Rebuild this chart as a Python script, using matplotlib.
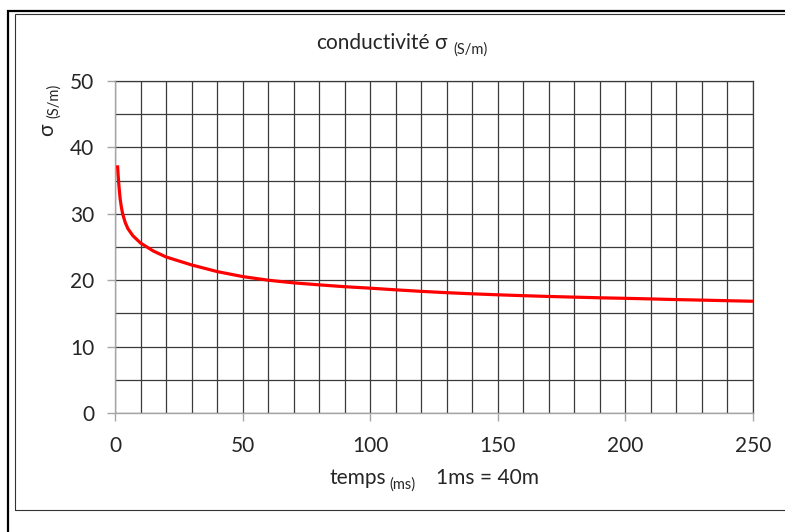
import matplotlib
matplotlib.use("Agg")
import matplotlib.pyplot as plt
from matplotlib.patches import Rectangle

W, H = 785, 532
FONT = ["Lato", "DejaVu Sans"]
TEXT_COLOR = "#262626"
GRID_COLOR = "#3a3a3a"
AXIS_COLOR = "#a6a6a6"

# conductivity read over time (ms)
t_ms = [1, 1.25, 1.5, 2, 2.5, 3, 4, 5, 7, 10, 15, 20, 30, 40, 50, 60, 70, 80, 90, 100,
        110, 120, 130, 140, 150, 160, 170, 180, 190, 200, 210, 220, 230, 240, 250]
sigma = [37.3, 35.7, 34.4, 32.3, 31.0, 30.0, 28.7, 27.8, 26.7, 25.6, 24.4, 23.5,
         22.3, 21.3, 20.55, 20.0, 19.6, 19.3, 19.02, 18.8, 18.55, 18.32, 18.12,
         17.95, 17.8, 17.67, 17.55, 17.45, 17.35, 17.27, 17.18, 17.08, 17.0,
         16.91, 16.83]

x_major = [0, 50, 100, 150, 200, 250]
y_major = [0, 10, 20, 30, 40, 50]
x_minor = list(range(0, 251, 10))
y_minor = list(range(0, 51, 5))


def px(x, y):
    # pixel position (from top-left) -> figure fraction
    return x / W, 1 - y / H


fig = plt.figure(figsize=(W / 100, H / 100), dpi=100)
ax = fig.add_axes([115 / W, 1 - 413 / H, 638 / W, 332 / H])

ax.plot(t_ms, sigma, color="#ff0000", lw=2.3, solid_capstyle="butt", zorder=3)

ax.set_xlim(0, 250)
ax.set_ylim(0, 50)
ax.set_xticks(x_major)
ax.set_yticks(y_major)
ax.set_xticks(x_minor, minor=True)
ax.set_yticks(y_minor, minor=True)
ax.grid(True, which="both", color=GRID_COLOR, lw=0.9)
ax.set_axisbelow(True)

for side in ("top", "right"):
    ax.spines[side].set_color(GRID_COLOR)
    ax.spines[side].set_linewidth(0.9)
for side in ("left", "bottom"):
    ax.spines[side].set_color(AXIS_COLOR)
    ax.spines[side].set_linewidth(1.0)
    ax.spines[side].set_zorder(2.6)

ax.tick_params(which="major", direction="out", length=5.8, width=1.0,
               color=AXIS_COLOR, labelsize=15, labelcolor=TEXT_COLOR)
ax.tick_params(axis="y", which="major", pad=9)
ax.tick_params(axis="x", which="major", pad=11)
ax.tick_params(which="minor", length=0)
for lab in ax.get_xticklabels() + ax.get_yticklabels():
    lab.set_family(FONT)

# title, axis labels with subscript units
pieces = [
    ("conductivité", 316, 49, 15, 0),
    ("σ", 434, 49, 15, 0),
    ("(S/m)", 453, 54, 10.5, 0),
    ("temps", 330, 484, 15, 0),
    ("(ms)", 389, 489, 10.5, 0),
    ("1ms = 40m", 436, 484, 15, 0),
    ("σ", 53, 136, 15, 90),
    ("(S/m)", 58, 118, 10.5, 90),
]
for s, x, y, size, rot in pieces:
    fx, fy = px(x, y)
    fig.text(fx, fy, s, fontsize=size, family=FONT, color=TEXT_COLOR,
             rotation=rot, rotation_mode="anchor", ha="left", va="baseline")

# double frame around the chart
x0, y0 = px(7.5, 11)
fig.add_artist(Rectangle((x0, -0.1), 1.2, y0 + 0.1, transform=fig.transFigure,
                         fill=False, ec="black", lw=1.6, clip_on=False))
x1, y1 = px(15.3, 14)
_, y2 = px(0, 510)
fig.add_artist(Rectangle((x1, y2), 1.2, y1 - y2, transform=fig.transFigure,
                         fill=False, ec="#333333", lw=0.8, clip_on=False))

fig.savefig("out.png", dpi=100)
